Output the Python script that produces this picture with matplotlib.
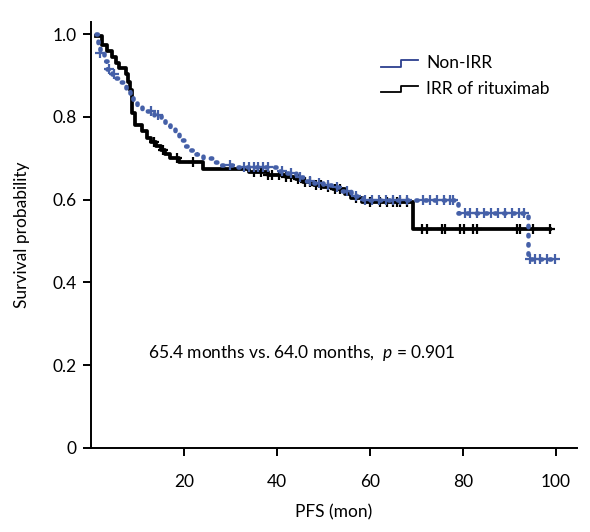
import numpy as np
import matplotlib
matplotlib.use('Agg')
import matplotlib.pyplot as plt
from matplotlib.lines import Line2D
from matplotlib.legend_handler import HandlerBase

plt.rcParams['font.family'] = ['Lato', 'DejaVu Sans']
plt.rcParams['mathtext.fontset'] = 'custom'
plt.rcParams['mathtext.it'] = 'Lato:italic'
plt.rcParams['mathtext.rm'] = 'Lato'

# IRR of rituximab (black) - step points (time, survival)
irr_t = [1.2, 2.5, 3.5, 4.5, 5.5, 6.0, 7.5, 8.0, 8.5, 8.8, 9.5, 11, 12, 13, 14, 15, 16, 17, 19,
         24, 34, 38, 42, 44, 45.6, 48, 50, 52, 54.6, 56, 58.3, 69.2]
irr_s = [0.995, 0.975, 0.96, 0.945, 0.93, 0.918, 0.905, 0.885, 0.865, 0.81, 0.78, 0.765, 0.75, 0.74,
         0.73, 0.72, 0.71, 0.70, 0.69, 0.675, 0.667, 0.66, 0.655, 0.65, 0.643, 0.636, 0.63, 0.625,
         0.614, 0.605, 0.595, 0.528]
irr_end = 98.7
irr_cens = [13.5, 15.5, 18.5, 22, 35, 36.5, 38, 39, 40.5, 42, 43, 44.5, 46, 47, 48.5, 49.5, 51,
            52.5, 53.5, 57, 60, 62.2, 63.6, 65, 65.7, 66.5, 67.9, 71.1, 72.2, 75.4, 76.1, 79.4,
            80.1, 82.2, 82.9, 91.5, 92.3, 95.1, 98.7]

# Non-IRR (blue)
non_t = [1.0, 1.5, 2.0, 2.8, 3.5, 4.5, 5.5, 6.5, 7.5, 8.5, 9.0, 10, 11, 12, 13.5, 15, 16, 17,
         18, 19, 20, 21, 22.5, 24, 26, 28, 31, 40, 42, 44, 46, 48, 50, 52, 54, 56, 58.5, 79, 94]
non_s = [1.0, 0.975, 0.955, 0.935, 0.915, 0.905, 0.895, 0.885, 0.87, 0.85, 0.835, 0.83, 0.82,
         0.815, 0.805, 0.795, 0.78, 0.77, 0.76, 0.745, 0.73, 0.72, 0.71, 0.70, 0.69, 0.685, 0.68,
         0.67, 0.665, 0.655, 0.645, 0.64, 0.635, 0.63, 0.62, 0.61, 0.60, 0.567, 0.456]
non_end = 99.8
non_cens = [2, 4, 5, 13, 14.5, 30, 33, 34, 35, 36, 37, 38, 41, 43, 45, 47, 49, 51, 53, 55, 57, 59,
            60.5, 62, 63.5, 65, 66.5, 68, 71.5, 72.9, 74.3, 75.8, 77.2, 77.9, 80.5, 81.5, 83,
            84.5, 86, 87.5, 89, 90.5, 92, 93, 94.4, 95.5, 96.6, 98, 99.8]

BLUE = '#4560a8'


def at(t, s, c):
    idx = np.searchsorted(t, c, side='right') - 1
    return np.array(s)[np.clip(idx, 0, len(s) - 1)]


class StepHandler(HandlerBase):
    def create_artists(self, legend, orig_handle, xdescent, ydescent, width, height, fontsize, trans):
        xs = np.array([0, 0.55, 0.55, 1.0]) * width - xdescent
        ys = np.array([0.15, 0.15, 0.65, 0.65]) * height - ydescent
        ln = Line2D(xs, ys, color=orig_handle.get_color(), lw=1.3)
        ln.set_transform(trans)
        return [ln]


fig = plt.figure(figsize=(5.9, 5.32), dpi=100)
ax = fig.add_axes([0.154, 0.158, 0.824, 0.801])

# blue
ax.step(non_t + [non_end], non_s + [non_s[-1]], where='post', color=BLUE, lw=3.3,
        linestyle=(0, (0.3, 1.7)), dash_capstyle='round', zorder=3)
ax.plot(non_cens, at(non_t, non_s, non_cens), '+', color=BLUE, ms=7, mew=1.6, zorder=3)
# black
ax.step(irr_t + [irr_end], irr_s + [irr_s[-1]], where='post', color='black', lw=2.7, zorder=2)
ax.plot(irr_cens, at(irr_t, irr_s, irr_cens), '+', color='black', ms=7, mew=1.6, zorder=2)

ax.set_xlim(0, 104.5)
ax.set_ylim(0, 1.03)
ax.set_xticks([20, 40, 60, 80, 100])
ax.set_yticks([0, 0.2, 0.4, 0.6, 0.8, 1.0])
ax.set_yticklabels(['0', '0.2', '0.4', '0.6', '0.8', '1.0'])
for side in ['top', 'right']:
    ax.spines[side].set_visible(False)
for side in ['left', 'bottom']:
    ax.spines[side].set_linewidth(1.4)
ax.tick_params(direction='out', length=6, width=1.4, labelsize=12.5, pad=13)
ax.tick_params(axis='y', pad=4)
ax.set_xlabel('PFS (mon)', fontsize=12.5, labelpad=10)
ax.set_ylabel('Survival probability', fontsize=12.5, labelpad=16)

ax.text(12.3, 0.23, r'65.4 months vs. 64.0 months,  $\mathit{p}$ = 0.901', fontsize=12.5,
        va='center', ha='left')

h1 = Line2D([], [], color='#2c3f8f')
h2 = Line2D([], [], color='black')
ax.legend([h1, h2], ['Non-IRR', 'IRR of rituximab'], handler_map={Line2D: StepHandler()},
          loc='upper left', bbox_to_anchor=(0.565, 0.958), frameon=False, fontsize=12.5,
          handlelength=2.1, handletextpad=0.5, labelspacing=0.55)

fig.savefig('out.png', dpi=100)
